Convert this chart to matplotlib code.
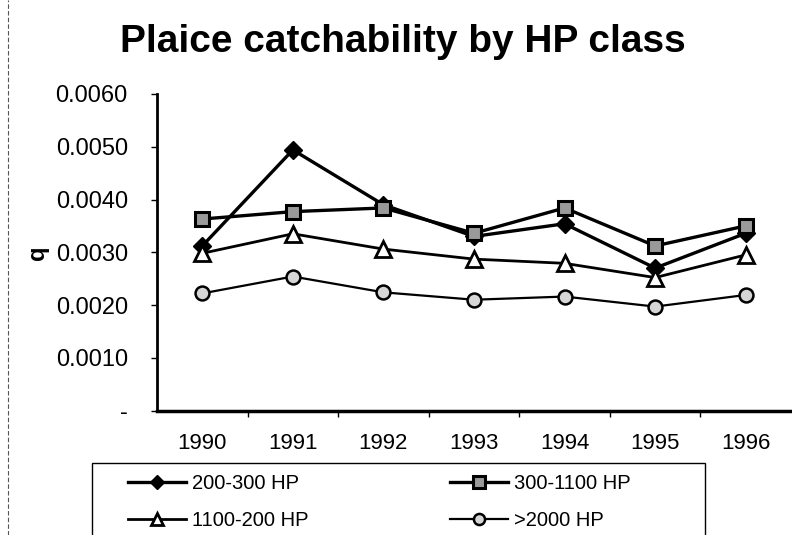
import numpy as np
import matplotlib
matplotlib.use("Agg")
import matplotlib.pyplot as plt
from matplotlib.patches import Rectangle
from matplotlib.lines import Line2D
from matplotlib.ticker import FixedLocator, FuncFormatter

plt.rcParams['font.family'] = ['Liberation Sans', 'DejaVu Sans']

# Data
years = ["1990", "1991", "1992", "1993", "1994", "1995", "1996"]
hp_200_300 = [0.00312, 0.00494, 0.00390, 0.00330, 0.00354, 0.00270, 0.00336]
hp_300_1100 = [0.00363, 0.00377, 0.00384, 0.00336, 0.00384, 0.00312, 0.00350]
hp_1100_200 = [0.00298, 0.00335, 0.00306, 0.00287, 0.00279, 0.00252, 0.00295]
hp_2000 = [0.00222, 0.00254, 0.00224, 0.00210, 0.00216, 0.00197, 0.00219]
y_ticks = [0.0, 0.001, 0.002, 0.003, 0.004, 0.005, 0.006]

W, H = 792, 535
fig = plt.figure(figsize=(W / 100, H / 100), dpi=100)
ax = fig.add_axes([157 / W, 1 - 410.5 / H, (791 - 157) / W, (410.5 - 94) / H])

x = np.arange(len(years))
series = [
    (hp_200_300, "200-300 HP", dict(marker="D", markersize=9, markerfacecolor="black",
                                    markeredgecolor="black", linewidth=2.4)),
    (hp_300_1100, "300-1100 HP", dict(marker="s", markersize=10, markerfacecolor="#9a9a9a",
                                      markeredgecolor="black", markeredgewidth=2.2, linewidth=2.4)),
    (hp_1100_200, "1100-200 HP", dict(marker="^", markersize=11, markerfacecolor="white",
                                      markeredgecolor="black", markeredgewidth=2.0, linewidth=2.0)),
    (hp_2000, ">2000 HP", dict(marker="o", markersize=10, markerfacecolor="#d6d6d6",
                               markeredgecolor="black", markeredgewidth=1.8, linewidth=1.6)),
]
handles = []
for vals, label, style in series:
    line, = ax.plot(x, vals, color="black", label=label, **style)
    handles.append(line)

ax.set_xlim(-0.5, len(years) - 0.5)
ax.set_ylim(0, 0.006)
ax.spines["top"].set_visible(False)
ax.spines["right"].set_visible(False)
ax.spines["left"].set_linewidth(2)
ax.spines["bottom"].set_linewidth(2.5)

ax.yaxis.set_major_locator(FixedLocator(y_ticks))
ax.yaxis.set_major_formatter(FuncFormatter(lambda v, p: "-" if v == 0 else f"{v:.4f}"))
ax.tick_params(axis="y", labelsize=17, length=4, width=1, pad=17)

ax.set_xticks(x)
ax.set_xticklabels(years)
ax.set_xticks(np.arange(len(years) - 1) + 0.5, minor=True)
ax.tick_params(axis="x", which="major", length=0, labelsize=16, pad=16)
ax.tick_params(axis="x", which="minor", length=4, width=1)

ax.set_ylabel("q", fontsize=17, fontweight="bold")
ax.yaxis.set_label_coords(-108 / (791 - 157), 0.5)

fig.text(403 / W, 1 - 42 / H, "Plaice catchability by HP class", fontsize=28,
         fontweight="bold", ha="center", va="center")

# Legend box (bottom edge falls outside the image)
fig.patches.append(Rectangle((92 / W, 1 - 545 / H), (705 - 92) / W, (545 - 463) / H,
                             transform=fig.transFigure, fill=False, edgecolor="black",
                             linewidth=1))
legend_order = [handles[0], handles[2], handles[1], handles[3]]
fig.legend(handles=legend_order, loc="upper left", bbox_to_anchor=(128 / W, 1 - 474 / H),
           ncol=2, frameon=False, fontsize=14.5, handlelength=2.9, handletextpad=0.3,
           columnspacing=7.0, labelspacing=0.9, borderpad=0, borderaxespad=0,
           markerscale=0.8)

# Faint outer chart border on the left
fig.add_artist(Line2D([8 / W, 8 / W], [0, 1], transform=fig.transFigure,
                      color="#555555", linewidth=0.8, linestyle=(0, (4, 2))))

fig.savefig("out.png", dpi=100)
